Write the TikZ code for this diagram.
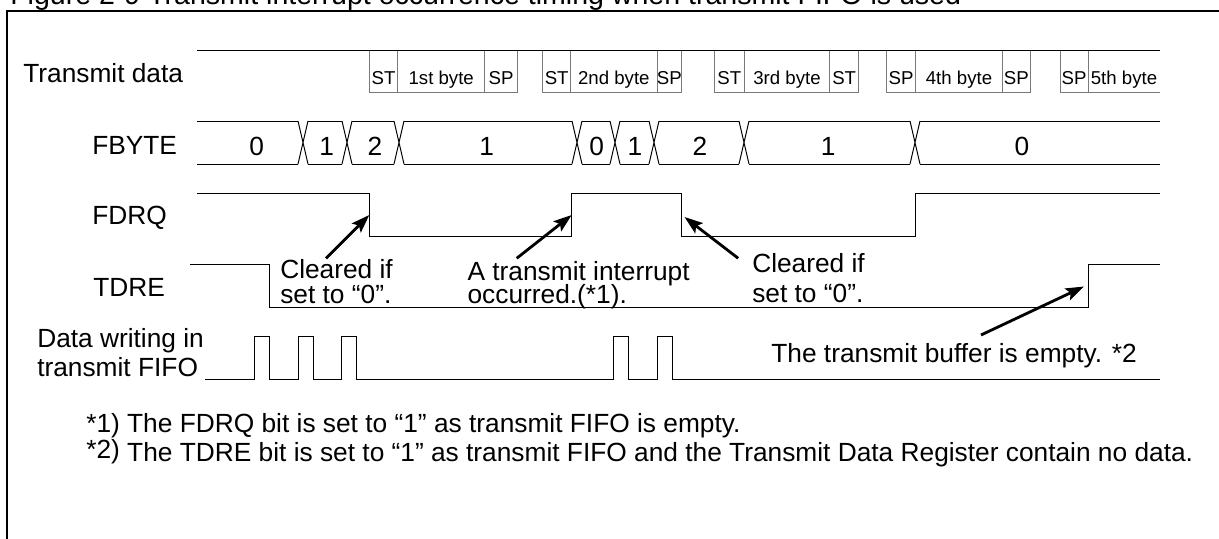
\documentclass[tikz,border=0pt]{standalone}
\usepackage{fontspec}
\setmainfont{Liberation Sans}
\usepackage{tikz}
\usetikzlibrary{arrows.meta}
\definecolor{TCell}{HTML}{7A7A7A}
\definecolor{TInk}{HTML}{000000}
\newcommand{\notefont}[1]{\fontsize{18.7pt}{#1}\selectfont\lineskiplimit=-40pt\relax}
\newcommand{\bytecell}[4]{% {name}{left x}{right x}{label}
  \draw[cellline] (#2,50.7) -- (#2,92.3) -- (#3,92.3) -- (#3,50.7);
  \node[celltext] (#1) at ({(#2+#3)/2},85) {#4};%
}
\tikzset{
  sig/.style={draw=TInk,line width=0.7pt},
  cellline/.style={draw=TCell,line width=0.6pt},
  celltext/.style={anchor=base,inner sep=0pt,font=\fontsize{13.25pt}{16pt}\selectfont},
  rowlabel/.style={anchor=base west,inner sep=0pt,font=\notefont{22pt}},
  note/.style={anchor=base west,inner sep=0pt,font=\notefont{22pt}},
  notearrow/.style={draw=TInk,line width=2pt,-{Stealth[length=13pt,width=9pt,inset=2.5pt]}},
}

\begin{document}
\begin{tikzpicture}[x=0.025cm,y=-0.025cm]
    \useasboundingbox (0,0) rectangle (1219,539);
    \node[note,font=\fontsize{20.3pt}{24pt}\selectfont] (title) at (10,4.5)
      {Figure 2-9 Transmit interrupt occurrence timing when transmit FIFO is used};
    \draw[line width=1.4pt] (1225,11) -- (7,11) -- (7,545);

    \node[rowlabel] (lblTx) at (23,82) {Transmit data};
    \node[rowlabel] (lblFbyte) at (92,154) {FBYTE};
    \node[rowlabel] (lblFdrq) at (92,224.3) {FDRQ};
    \node[rowlabel] (lblTdre) at (93,296) {TDRE};
    \node[rowlabel] (lblWr) at (37,347.7)
      {\parbox[t]{6cm}{\notefont{20.6pt}Data writing in\\transmit FIFO}};

    % transmit data
    \draw[sig] (197,50.7) -- (1160,50.7);
    \bytecell{stA}{369.3}{397.7}{ST}
    \bytecell{byA}{397.7}{484.7}{1st byte}
    \bytecell{spA}{484.7}{517.5}{SP}
    \bytecell{stB}{542.7}{570.7}{ST}
    \bytecell{byB}{570.7}{657}{2nd byte}
    \bytecell{spB}{657}{681.7}{SP}
    \bytecell{stC}{714.3}{744.3}{ST}
    \bytecell{byC}{744.3}{829.7}{3rd byte}
    \bytecell{stD}{829.7}{858.7}{ST}
    \bytecell{spD}{886.7}{915.3}{SP}
    \bytecell{byD}{915.3}{1002.7}{4th byte}
    \bytecell{spE}{1002.7}{1030}{SP}
    \bytecell{spF}{1060}{1088}{SP}
    \draw[cellline] (1088,92.3) -- (1160,92.3);
    \node[celltext] (byE) at (1124,85) {5th byte};

    % FBYTE
    \foreach \xa/\xb in {197/298,308/342,352/394,404/572,582/610,620/649,659/739,749/910,920/1160}
      \draw[sig] (\xa,121) -- (\xb,121) (\xa,164) -- (\xb,164);
    \foreach \xc in {303,347,399,577,615,654,744,915}
      \draw[sig] (\xc-5,121) -- (\xc+5,164) (\xc-5,164) -- (\xc+5,121);
    \foreach \xv/\dv [count=\i] in {256.7/0,326.7/1,375/2,486.7/1,596.7/0,635/1,700/2,828.3/1,1022/0}
      \node[rowlabel,anchor=base] (fb\i) at (\xv,155) {\dv};

    % FDRQ, TDRE, writes
    \draw[sig] (197,193.3) -| (369.3,236) -| (571.7,193.3) -| (681.7,236) -| (915,193.3) -- (1160,193.3);
    \draw[sig] (190,264.3) -| (269.3,307) -| (1088,264.3) -- (1160,264.3);
    \draw[sig] (205,379) \foreach \xp in {254,298,341,613,657} { -| (\xp,336) -| (\xp+15,379) } -- (1160,379);

    \node[note] (clrA) at (280,278.3) {\parbox[t]{5cm}{\notefont{18.2pt}Cleared if\\set to “0”.}};
    \node[note] (intA) at (467.3,280) {\parbox[t]{6cm}{\notefont{16.5pt}A transmit interrupt\\occurred.(*1).}};
    \node[note] (clrB) at (752,272) {\parbox[t]{5cm}{\notefont{22pt}Cleared if\\set to “0”.}};
    \node[note,anchor=base east] (bufE) at (1137,362) {The transmit buffer is empty. *2};
    \node[note] (fnA) at (86,432) {*1) The FDRQ bit is set to “1” as transmit FIFO is empty.};
    \node[note] (fnB) at (86,461)
      {\raisebox{2pt}{*2)} The TDRE bit is set to “1” as transmit FIFO and the Transmit Data Register contain no data.};

    \coordinate (fdrqFallA) at (369.3,215);
    \coordinate (fdrqRise) at (571.7,215);
    \coordinate (fdrqFallB) at (684.5,217);
    \coordinate (tdreRise) at (1084,286.5);
    \draw[notearrow] ([shift={(46,-20)}]clrA.base west) -- (fdrqFallA);
    \draw[notearrow] ([shift={(49.4,-21.7)}]intA.base west) -- (fdrqRise);
    \draw[notearrow] ([shift={(-13.8,-13.7)}]clrB.base west) -- (fdrqFallB);
    \draw[notearrow] ([shift={(-156,-27)}]bufE.base east) -- (tdreRise);
  \end{tikzpicture}
\end{document}
